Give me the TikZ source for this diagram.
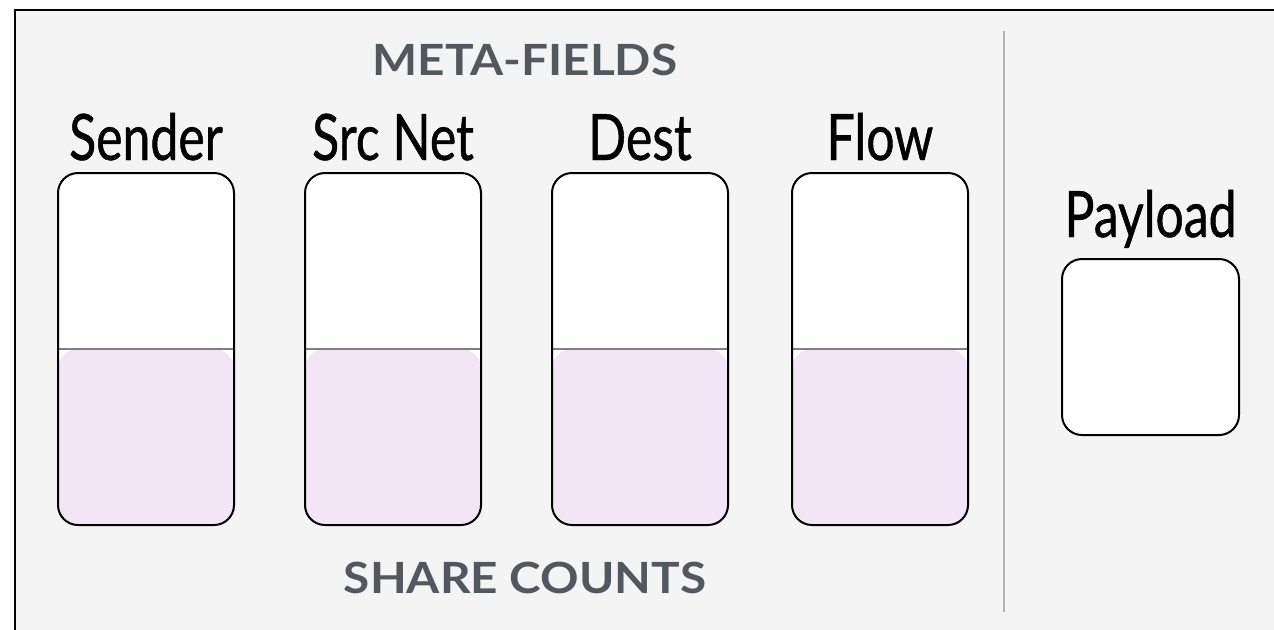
\documentclass[tikz,border=0pt]{standalone}
\usepackage{fontspec}
\setmainfont{Lato}
\newfontfamily\fieldfont[FakeStretch=0.78, FakeBold=0.7]{Lato}
\newfontfamily\headfont{Lato}[UprightFont=* Bold, FakeStretch=1.11]
\definecolor{panelbg}{HTML}{F4F4F4}
\definecolor{headgrey}{HTML}{53585F}
\definecolor{sharefill}{HTML}{F1E5F6}
\definecolor{sepgrey}{HTML}{B4B6B6}
\definecolor{midline}{HTML}{7E7E7E}
\tikzset{
  field/.style={draw=black, line width=1pt, fill=white, rounded corners=10pt,
    minimum width=88pt, minimum height=176pt, inner sep=0pt,
    path picture={
      \fill[sharefill] (path picture bounding box.west) rectangle (path picture bounding box.south east);
      \draw[midline, line width=0.8pt] (path picture bounding box.west) -- (path picture bounding box.east);
    }},
  payloadbox/.style={draw=black, line width=1pt, fill=white, rounded corners=10pt,
    minimum width=88.5pt, minimum height=88pt, inner sep=0pt},
  fieldlabel/.style={anchor=base, inner sep=0pt, font=\fieldfont\fontsize{32}{36}\selectfont, text=black},
  grouplabel/.style={anchor=base, inner sep=0pt, font=\headfont\fontsize{21.5}{26}\selectfont, text=headgrey},
}
\begin{document}
\begin{tikzpicture}[x=0.5pt, y=-0.5pt]
  \useasboundingbox (0,0) rectangle (1274,629);
  \fill[white] (0,0) rectangle (1274,629);
  % outer panel, running past the right and bottom edges
  \begin{scope}
    \clip (0,0) rectangle (1274,629);
    \draw[black, line width=1.2pt, fill=panelbg] (15,10) rectangle (1290,650);
  \end{scope}
  % separator between meta-fields and payload
  \coordinate (septop) at (1004,31);
  \coordinate (sepbot) at (1004,612);
  \draw[sepgrey, line width=1.2pt] (septop) -- (sepbot);

  % meta-field columns
  \node[field] (sender) at (146,349) {};
  \node[field] (srcnet) at (393,349) {};
  \node[field] (dest)   at (640,349) {};
  \node[field] (flow)   at (880,349) {};
  \node[payloadbox] (payload) at (1150.5,347) {};

  \node[fieldlabel] (lsender) at (146,160) {Sender};
  \node[fieldlabel] (lsrcnet) at (393,160) {Src Net};
  \node[fieldlabel] (ldest)   at (640,160) {Dest};
  \node[fieldlabel] (lflow)   at (880,160) {Flow};
  \node[fieldlabel] (lpayload) at (1150.5,237) {Payload};

  \node[grouplabel] (meta)  at (525,75)  {META-FIELDS};
  \node[grouplabel] (share) at (525,593) {SHARE COUNTS};
\end{tikzpicture}
\end{document}
